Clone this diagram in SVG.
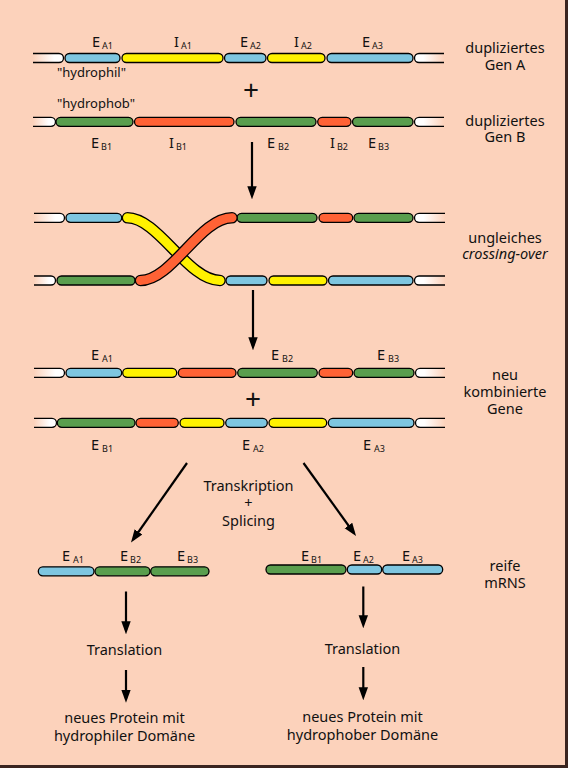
<svg xmlns="http://www.w3.org/2000/svg" width="568" height="768" viewBox="0 0 568 768">
<style>
.seg{stroke:#000;stroke-width:1.3}
.b{fill:#7EC6E0}.y{fill:#FFF200}.r{fill:#FF6235}.g{fill:#5A9E4E}
.wl{fill:url(#gl);stroke:#000;stroke-width:1.3}
.wr{fill:url(#gr);stroke:#000;stroke-width:1.3}
.t{font-family:"Noto Sans","Open Sans",sans-serif;font-size:14.5px;fill:#111}
.s{font-size:9px}
.m{text-anchor:middle}
.arr{stroke:#000;stroke-width:2.2;fill:none;marker-end:url(#ah)}
</style>
<defs>
<linearGradient id="gl" x1="0" x2="1" y1="0" y2="0"><stop offset="0" stop-color="#FCD2BB"/><stop offset="0.7" stop-color="#fff"/></linearGradient>
<linearGradient id="gr" x1="0" x2="1" y1="0" y2="0"><stop offset="0.3" stop-color="#fff"/><stop offset="1" stop-color="#FCD2BB"/></linearGradient>
<marker id="ah" markerWidth="13" markerHeight="18" refX="12" refY="6.5" orient="auto" markerUnits="userSpaceOnUse" viewBox="0 0 18 13">
<path d="M0,0 L18,6.5 L0,13 Z" fill="#000"/>
</marker>
</defs>
<rect x="0" y="0" width="568" height="768" fill="#FCD2BB"/>
<path d="M566.5,0 V766.5 H0" stroke="#3a2520" stroke-width="3" fill="none"/>

<g id="genA">
<path class="wl" d="M33,53.5 H59 A4.5,4.5 0 0 1 59,62.5 H33"/>
<path class="wr" d="M444,53.5 H419 A4.5,4.5 0 0 0 419,62.5 H444"/>
<rect class="seg b" x="65" y="53.5" width="55" height="9" rx="4.5"/>
<rect class="seg y" x="122" y="53.5" width="101" height="9" rx="4.5"/>
<rect class="seg b" x="224.5" y="53.5" width="41.5" height="9" rx="4.5"/>
<rect class="seg y" x="267.5" y="53.5" width="57.5" height="9" rx="4.5"/>
<rect class="seg b" x="327" y="53.5" width="86" height="9" rx="4.5"/>
<text class="t" x="92" y="47">E<tspan class="s" dx="2" dy="2">A1</tspan></text>
<text class="t" x="174" y="47">I<tspan class="s" dx="2" dy="2">A1</tspan></text>
<text class="t" x="240" y="47">E<tspan class="s" dx="2" dy="2">A2</tspan></text>
<text class="t" x="294" y="47">I<tspan class="s" dx="2" dy="2">A2</tspan></text>
<text class="t" x="362" y="47">E<tspan class="s" dx="2" dy="2">A3</tspan></text>
<text class="t" x="57" y="77" style="font-size:13px">"hydrophil"</text>
<text class="t m" x="505" y="53">dupliziertes</text>
<text class="t m" x="505" y="70">Gen A</text>
</g>

<text class="t m" x="251" y="100" style="font-size:28px">+</text>

<g id="genB">
<path class="wl" d="M33,117.3 H51 A4.5,4.5 0 0 1 51,126.3 H33"/>
<path class="wr" d="M444,117.3 H419 A4.5,4.5 0 0 0 419,126.3 H444"/>
<rect class="seg g" x="56" y="117.3" width="77" height="9" rx="4.5"/>
<rect class="seg r" x="134.5" y="117.3" width="99.5" height="9" rx="4.5"/>
<rect class="seg g" x="236" y="117.3" width="80" height="9" rx="4.5"/>
<rect class="seg r" x="317.7" y="117.3" width="33.3" height="9" rx="4.5"/>
<rect class="seg g" x="352.5" y="117.3" width="60.5" height="9" rx="4.5"/>
<text class="t" x="57" y="108" style="font-size:13px">"hydrophob"</text>
<text class="t" x="91" y="148">E<tspan class="s" dx="2" dy="2">B1</tspan></text>
<text class="t" x="169" y="148">I<tspan class="s" dx="2" dy="2">B1</tspan></text>
<text class="t" x="267" y="148">E<tspan class="s" dx="3" dy="2">B2</tspan></text>
<text class="t" x="330" y="148">I<tspan class="s" dx="2" dy="2">B2</tspan></text>
<text class="t" x="368" y="148">E<tspan class="s" dx="2" dy="2">B3</tspan></text>
<text class="t m" x="505" y="126">dupliziertes</text>
<text class="t m" x="505" y="142">Gen B</text>
</g>

<g id="crossing">
<path class="wl" d="M34,213.3 H60 A4.5,4.5 0 0 1 60,222.3 H34"/>
<path class="wr" d="M445,213.3 H419 A4.5,4.5 0 0 0 419,222.3 H445"/>
<rect class="seg b" x="66" y="213.3" width="55.7" height="9" rx="4.5"/>
<rect class="seg g" x="237" y="213.3" width="80" height="9" rx="4.5"/>
<rect class="seg r" x="319" y="213.3" width="33.7" height="9" rx="4.5"/>
<rect class="seg g" x="354" y="213.3" width="59" height="9" rx="4.5"/>
<path class="wl" d="M34,276 H51 A4.5,4.5 0 0 1 51,285 H34"/>
<path class="wr" d="M445,276 H419 A4.5,4.5 0 0 0 419,285 H445"/>
<rect class="seg g" x="57" y="276" width="78" height="9" rx="4.5"/>
<rect class="seg b" x="226" y="276" width="41" height="9" rx="4.5"/>
<rect class="seg y" x="269" y="276" width="58" height="9" rx="4.5"/>
<rect class="seg b" x="328.5" y="276" width="84.5" height="9" rx="4.5"/>
<path d="M127.5,217.8 C158,217.8 188,280.5 220,280.5" stroke="#000" stroke-width="11.6" stroke-linecap="round" fill="none"/>
<path d="M127.5,217.8 C158,217.8 188,280.5 220,280.5" stroke="#FFF200" stroke-width="9" stroke-linecap="round" fill="none"/>
<path d="M140.5,280.5 C172,280.5 200,217.8 232,217.8" stroke="#000" stroke-width="11.6" stroke-linecap="round" fill="none"/>
<path d="M140.5,280.5 C172,280.5 200,217.8 232,217.8" stroke="#FF6235" stroke-width="9" stroke-linecap="round" fill="none"/>
<text class="t m" x="505" y="243">ungleiches</text>
<text class="t m" x="505" y="259" font-style="italic">crossing-over</text>
</g>

<g id="recomb">
<path class="wl" d="M34,368.3 H60 A4.5,4.5 0 0 1 60,377.3 H34"/>
<path class="wr" d="M445,368.3 H420 A4.5,4.5 0 0 0 420,377.3 H445"/>
<rect class="seg b" x="66" y="368.3" width="55.7" height="9" rx="4.5"/>
<rect class="seg y" x="122.7" y="368.3" width="54" height="9" rx="4.5"/>
<rect class="seg r" x="178.3" y="368.3" width="57.7" height="9" rx="4.5"/>
<rect class="seg g" x="237.7" y="368.3" width="79.6" height="9" rx="4.5"/>
<rect class="seg r" x="319" y="368.3" width="33.7" height="9" rx="4.5"/>
<rect class="seg g" x="354" y="368.3" width="60" height="9" rx="4.5"/>
<path class="wl" d="M34,418.3 H52 A4.5,4.5 0 0 1 52,427.3 H34"/>
<path class="wr" d="M445,418.3 H420 A4.5,4.5 0 0 0 420,427.3 H445"/>
<rect class="seg g" x="57.3" y="418.3" width="77.7" height="9" rx="4.5"/>
<rect class="seg r" x="136" y="418.3" width="42.3" height="9" rx="4.5"/>
<rect class="seg y" x="180" y="418.3" width="44" height="9" rx="4.5"/>
<rect class="seg b" x="225.7" y="418.3" width="41.6" height="9" rx="4.5"/>
<rect class="seg y" x="269" y="418.3" width="57.7" height="9" rx="4.5"/>
<rect class="seg b" x="328.3" y="418.3" width="85.7" height="9" rx="4.5"/>
<text class="t" x="91" y="360">E<tspan class="s" dx="3" dy="2">A1</tspan></text>
<text class="t" x="271" y="360">E<tspan class="s" dx="3" dy="2">B2</tspan></text>
<text class="t" x="377" y="360">E<tspan class="s" dx="3" dy="2">B3</tspan></text>
<text class="t m" x="253" y="409" style="font-size:28px">+</text>
<text class="t" x="91" y="450">E<tspan class="s" dx="3" dy="2">B1</tspan></text>
<text class="t" x="242" y="450">E<tspan class="s" dx="3" dy="2">A2</tspan></text>
<text class="t" x="363" y="450">E<tspan class="s" dx="3" dy="2">A3</tspan></text>
<text class="t m" x="505" y="380">neu</text>
<text class="t m" x="505" y="397">kombinierte</text>
<text class="t m" x="505" y="414">Gene</text>
</g>

<g id="mrnaL">
<rect class="seg b" x="38.3" y="566.8" width="55.7" height="9" rx="4.5"/>
<rect class="seg g" x="95" y="566.8" width="55" height="9" rx="4.5"/>
<rect class="seg g" x="150.7" y="566.8" width="58.3" height="9" rx="4.5"/>
<text class="t" x="62" y="561">E<tspan class="s" dx="3" dy="2">A1</tspan></text>
<text class="t" x="120" y="561">E<tspan class="s" dx="2" dy="2">B2</tspan></text>
<text class="t" x="177" y="561">E<tspan class="s" dx="2" dy="2">B3</tspan></text>
</g>

<g id="mrnaR">
<rect class="seg g" x="266" y="565" width="80" height="9" rx="4.5"/>
<rect class="seg b" x="347.3" y="565" width="34.4" height="9" rx="4.5"/>
<rect class="seg b" x="382.7" y="565" width="60" height="9" rx="4.5"/>
<text class="t" x="301" y="561">E<tspan class="s" dx="2" dy="2">B1</tspan></text>
<text class="t" x="353" y="561">E<tspan class="s" dx="2" dy="2">A2</tspan></text>
<text class="t" x="402" y="561">E<tspan class="s" dx="2" dy="2">A3</tspan></text>
<text class="t m" x="505" y="571">reife</text>
<text class="t m" x="505" y="588">mRNS</text>
</g>

<g id="labels">
<text class="t m" x="248.5" y="491">Transkription</text>
<text class="t m" x="248.5" y="508">+</text>
<text class="t m" x="248.5" y="526">Splicing</text>
<text class="t m" x="124.5" y="655">Translation</text>
<text class="t m" x="124.5" y="723">neues Protein mit</text>
<text class="t m" x="124.5" y="741">hydrophiler Domäne</text>
<text class="t m" x="362.5" y="654">Translation</text>
<text class="t m" x="362.5" y="721.5">neues Protein mit</text>
<text class="t m" x="362.5" y="739.5">hydrophober Domäne</text>
</g>

<g id="connectors">
<line class="arr" x1="252" y1="142" x2="252" y2="195"/>
<line class="arr" x1="253" y1="290" x2="253" y2="346"/>
<line class="arr" x1="187" y1="463" x2="133.5" y2="539"/>
<line class="arr" x1="303.5" y1="463" x2="353.5" y2="532.5"/>
<line class="arr" x1="126" y1="591.5" x2="126" y2="630"/>
<line class="arr" x1="126" y1="670" x2="126" y2="698.5"/>
<line class="arr" x1="363.3" y1="586.5" x2="363.3" y2="624"/>
<line class="arr" x1="363.3" y1="667" x2="363.3" y2="696"/>
</g>
</svg>
